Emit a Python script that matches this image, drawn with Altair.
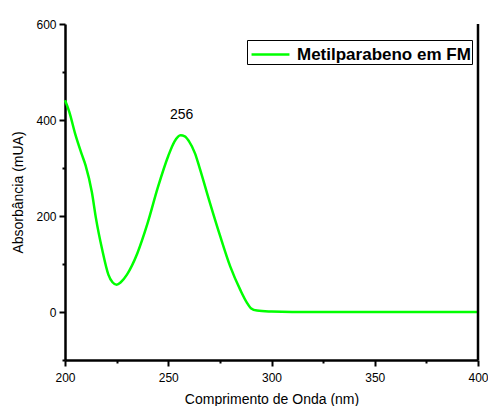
import altair as alt
import pandas as pd

wavelength = [200, 202, 205, 208, 210, 213, 215, 218, 221, 223, 225, 227, 230, 235, 240, 245,
              250, 253, 256, 258, 260, 263, 265, 270, 275, 280, 285, 288, 290, 293, 300, 310,
              330, 350, 370, 400]
absorb = [441, 418, 370, 330, 305, 250, 195, 130, 78, 62, 57, 62, 78, 122, 185, 260,
          325, 355, 368, 366, 356, 330, 303, 230, 160, 95, 45, 20, 8, 3, 1, 0,
          0, 0, 0, 0]
series_name = "Metilparabeno em FM"
peak_label = ["256"]
peak_x = [256.5]
peak_y = [410]
x_major = [200, 250, 300, 350, 400]
x_minor = [225, 275, 325, 375]
y_major = [0, 200, 400, 600]
y_minor = [-100, 100, 300, 500]

df = pd.DataFrame({"x": wavelength, "y": absorb, "s": series_name})
ann = pd.DataFrame({"x": peak_x, "y": peak_y, "t": peak_label})
border = pd.DataFrame({"x": [400]})

FONT = "Liberation Sans"

xscale = alt.Scale(domain=[200, 400], nice=False, zero=False)
yscale = alt.Scale(domain=[-100, 600], nice=False, zero=False)

xaxis = alt.Axis(
    values=x_major, grid=False, domainColor="black", domainWidth=2.5,
    ticks=True, tickColor="black", tickWidth=2, tickSize=6,
    labelFont=FONT, labelFontSize=12, labelColor="black", labelPadding=6,
    labelFlush=False, orient="bottom",
    title="Comprimento de Onda (nm)", titleFont=FONT, titleFontSize=14,
    titleFontWeight="normal", titleColor="black", titlePadding=9,
)
yaxis = alt.Axis(
    values=y_major, grid=False, domainColor="black", domainWidth=2.5,
    ticks=True, tickColor="black", tickWidth=2, tickSize=6,
    labelFont=FONT, labelFontSize=12, labelColor="black", labelPadding=3,
    labelFlush=False, orient="left",
    title="Absorbância (mUA)", titleFont=FONT, titleFontSize=14,
    titleFontWeight="normal", titleColor="black", titlePadding=10,
)
xaxis_minor = alt.Axis(
    values=x_minor, grid=False, domain=False, labels=False, title=None,
    ticks=True, tickColor="black", tickWidth=2, tickSize=3, orient="bottom",
)
yaxis_minor = alt.Axis(
    values=y_minor, grid=False, domain=False, labels=False, title=None,
    ticks=True, tickColor="black", tickWidth=2, tickSize=3, orient="left",
)

line = alt.Chart(df).mark_line(strokeWidth=2.5, interpolate="monotone").encode(
    x=alt.X("x:Q", scale=xscale, axis=xaxis),
    y=alt.Y("y:Q", scale=yscale, axis=yaxis),
    color=alt.Color(
        "s:N",
        scale=alt.Scale(domain=[series_name], range=["#00ff00"]),
        legend=alt.Legend(
            title=None, orient="none", legendX=182, legendY=16,
            symbolType="M-0.83,0H2.33", symbolSize=576, symbolStrokeWidth=2.5,
            labelFont=FONT, labelFontSize=17, labelFontWeight="bold",
            labelColor="black", strokeColor="black", fillColor="white",
            padding=1, labelOffset=22, labelLimit=300,
        ),
    ),
)

minor = alt.Chart(border).mark_rule(opacity=0).encode(
    x=alt.X("x:Q", scale=xscale, axis=xaxis_minor),
    y=alt.value(0),
    y2=alt.value(0),
)
minor_y = alt.Chart(pd.DataFrame({"y": [0]})).mark_rule(opacity=0).encode(
    y=alt.Y("y:Q", scale=yscale, axis=yaxis_minor),
    x=alt.value(0),
    x2=alt.value(0),
)

text = alt.Chart(ann).mark_text(font=FONT, fontSize=14, color="black").encode(
    x=alt.X("x:Q", scale=xscale, axis=None),
    y=alt.Y("y:Q", scale=yscale, axis=None),
    text="t:N",
)

rborder = alt.Chart(border).mark_rule(color="black", strokeWidth=2.5).encode(
    x=alt.X("x:Q", scale=xscale, axis=None),
)

chart = alt.layer(line, minor, minor_y, text, rborder).resolve_axis(
    x="independent", y="independent"
).properties(
    width=413, height=336,
    autosize=alt.AutoSizeParams(type="none"),
    padding={"left": 57, "top": 16, "right": 10, "bottom": 46},
).configure_view(stroke=None)

chart.save("out.html", embed_options={"renderer": "svg", "actions": False})
